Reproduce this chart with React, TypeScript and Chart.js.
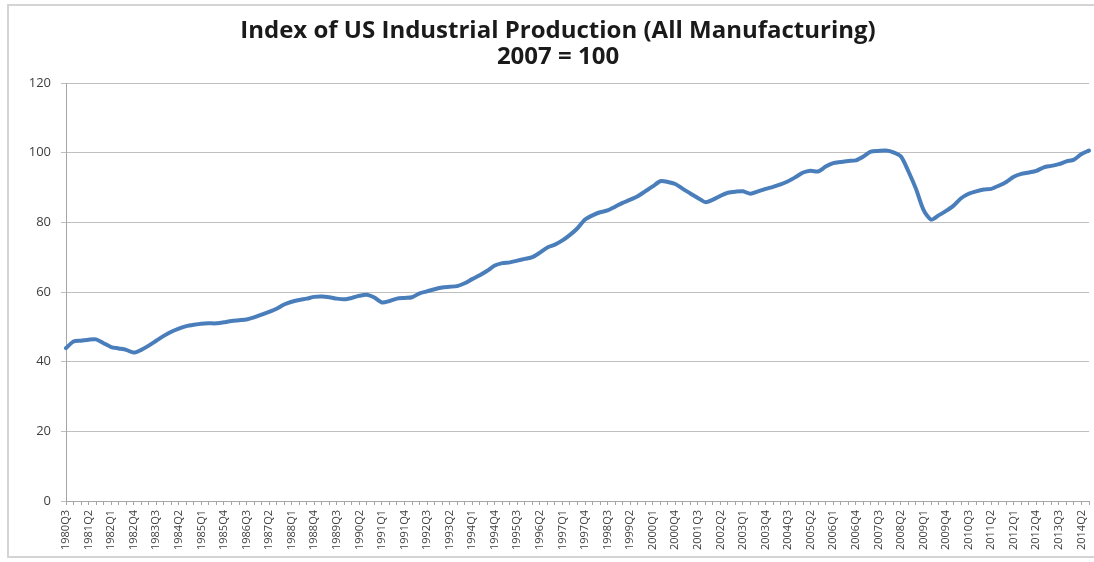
import { useEffect, useRef } from "react";
import { Chart, registerables } from "chart.js";

Chart.register(...registerables);

const quarters = [
  "1980Q3", "1980Q4",
  "1981Q1", "1981Q2", "1981Q3", "1981Q4",
  "1982Q1", "1982Q2", "1982Q3", "1982Q4",
  "1983Q1", "1983Q2", "1983Q3", "1983Q4",
  "1984Q1", "1984Q2", "1984Q3", "1984Q4",
  "1985Q1", "1985Q2", "1985Q3", "1985Q4",
  "1986Q1", "1986Q2", "1986Q3", "1986Q4",
  "1987Q1", "1987Q2", "1987Q3", "1987Q4",
  "1988Q1", "1988Q2", "1988Q3", "1988Q4",
  "1989Q1", "1989Q2", "1989Q3", "1989Q4",
  "1990Q1", "1990Q2", "1990Q3", "1990Q4",
  "1991Q1", "1991Q2", "1991Q3", "1991Q4",
  "1992Q1", "1992Q2", "1992Q3", "1992Q4",
  "1993Q1", "1993Q2", "1993Q3", "1993Q4",
  "1994Q1", "1994Q2", "1994Q3", "1994Q4",
  "1995Q1", "1995Q2", "1995Q3", "1995Q4",
  "1996Q1", "1996Q2", "1996Q3", "1996Q4",
  "1997Q1", "1997Q2", "1997Q3", "1997Q4",
  "1998Q1", "1998Q2", "1998Q3", "1998Q4",
  "1999Q1", "1999Q2", "1999Q3", "1999Q4",
  "2000Q1", "2000Q2", "2000Q3", "2000Q4",
  "2001Q1", "2001Q2", "2001Q3", "2001Q4",
  "2002Q1", "2002Q2", "2002Q3", "2002Q4",
  "2003Q1", "2003Q2", "2003Q3", "2003Q4",
  "2004Q1", "2004Q2", "2004Q3", "2004Q4",
  "2005Q1", "2005Q2", "2005Q3", "2005Q4",
  "2006Q1", "2006Q2", "2006Q3", "2006Q4",
  "2007Q1", "2007Q2", "2007Q3", "2007Q4",
  "2008Q1", "2008Q2", "2008Q3", "2008Q4",
  "2009Q1", "2009Q2", "2009Q3", "2009Q4",
  "2010Q1", "2010Q2", "2010Q3", "2010Q4",
  "2011Q1", "2011Q2", "2011Q3", "2011Q4",
  "2012Q1", "2012Q2", "2012Q3", "2012Q4",
  "2013Q1", "2013Q2", "2013Q3", "2013Q4",
  "2014Q1", "2014Q2", "2014Q3",
];

const manufacturingIndex = [
  43.9, 45.8,
  46.0, 46.3, 46.4, 45.3,
  44.2, 43.8, 43.4, 42.6,
  43.4, 44.6, 46.0, 47.4,
  48.6, 49.5, 50.2, 50.6,
  50.9, 51.0, 51.0, 51.3,
  51.7, 51.9, 52.1, 52.7,
  53.5, 54.3, 55.2, 56.4,
  57.2, 57.7, 58.1, 58.6,
  58.7, 58.5, 58.1, 57.9,
  58.3, 58.9, 59.2, 58.4,
  57.0, 57.4, 58.1, 58.3,
  58.5, 59.6, 60.2, 60.8,
  61.3, 61.5, 61.7, 62.5,
  63.7, 64.8, 66.1, 67.6,
  68.3, 68.5, 69.0, 69.5,
  70.0, 71.3, 72.8, 73.6,
  74.8, 76.4, 78.3, 80.8,
  82.0, 82.9, 83.4, 84.5,
  85.6, 86.5, 87.5, 88.9,
  90.3, 91.8, 91.6, 91.0,
  89.6, 88.3, 87.0, 85.8,
  86.5, 87.6, 88.5, 88.8,
  88.9, 88.2, 88.9, 89.6,
  90.2, 90.9, 91.8, 93.0,
  94.3, 94.8, 94.6, 96.0,
  97.0, 97.3, 97.6, 97.8,
  98.9, 100.3, 100.5, 100.6,
  100.1, 98.9, 94.6, 89.6,
  83.6, 80.8, 82.0, 83.3,
  84.8, 86.9, 88.2, 88.9,
  89.4, 89.6, 90.5, 91.6,
  93.1, 93.9, 94.3, 94.8,
  95.8, 96.2, 96.7, 97.5,
  98.0, 99.6, 100.6,
];

const yMin = 0;
const yMax = 120;
const yStep = 20;
const labelEvery = 3;
const titleLines = ["Index of US Industrial Production (All Manufacturing)", "2007 = 100"];

const fontFamily = "'Open Sans', 'Liberation Sans', sans-serif";

export default function App() {
  const canvasRef = useRef<HTMLCanvasElement>(null);

  useEffect(() => {
    document.body.style.margin = "0";
    const canvas = canvasRef.current;
    if (!canvas) return;

    const framePlugin = {
      id: "frameAndTitle",
      beforeDraw(chart: any) {
        const ctx = chart.ctx;
        ctx.save();
        ctx.fillStyle = "#ffffff";
        ctx.fillRect(0, 0, chart.width, chart.height);
        ctx.strokeStyle = "#d4d4d4";
        ctx.lineWidth = 2;
        ctx.strokeRect(8, 5, 1110, 552);
        ctx.restore();
      },
      afterDraw(chart: any) {
        const ctx = chart.ctx;
        ctx.save();
        ctx.fillStyle = "#1a1a1a";
        ctx.font = `bold 24px ${fontFamily}`;
        ctx.textAlign = "center";
        ctx.textBaseline = "middle";
        ctx.fillText(titleLines[0], 558, 31);
        ctx.fillText(titleLines[1], 558, 57);
        ctx.restore();
      },
    };

    const chart = new Chart(canvas, {
      type: "line",
      data: {
        labels: quarters,
        datasets: [
          {
            label: "Manufacturing",
            data: manufacturingIndex,
            borderColor: "#4a7ebb",
            borderWidth: 4,
            pointRadius: 0,
            tension: 0.25,
            fill: false,
            borderCapStyle: "round",
            borderJoinStyle: "round",
          },
        ],
      },
      options: {
        animation: false,
        responsive: false,
        devicePixelRatio: 1,
        layout: { padding: { left: 0, right: 5, top: 83, bottom: 0 } },
        plugins: {
          legend: { display: false },
          tooltip: { enabled: false },
          title: { display: false },
        },
        scales: {
          x: {
            afterFit: (s: any) => {
              s.height = 61;
              s.paddingLeft = 0;
              s.paddingRight = 0;
            },
            grid: {
              drawOnChartArea: false,
              drawTicks: true,
              tickLength: 4,
              color: "#a6a6a6",
            },
            border: { color: "#a6a6a6", width: 1 },
            ticks: {
              autoSkip: false,
              maxRotation: 90,
              minRotation: 90,
              padding: 5,
              color: "#404040",
              font: { family: fontFamily, size: 11 },
              callback: (_v: any, i: number) => (i % labelEvery === 0 ? quarters[i] : ""),
            },
          },
          y: {
            min: yMin,
            max: yMax,
            afterFit: (s: any) => {
              s.width = 66;
            },
            ticks: {
              stepSize: yStep,
              padding: 10,
              color: "#404040",
              font: { family: fontFamily, size: 13 },
            },
            grid: { color: "#bfbfbf", lineWidth: 1, tickLength: 5 },
            border: { color: "#a6a6a6", width: 1 },
          },
        },
      },
      plugins: [framePlugin],
    });

    return () => chart.destroy();
  }, []);

  return <canvas ref={canvasRef} width={1094} height={562} style={{ display: "block" }} />;
}
